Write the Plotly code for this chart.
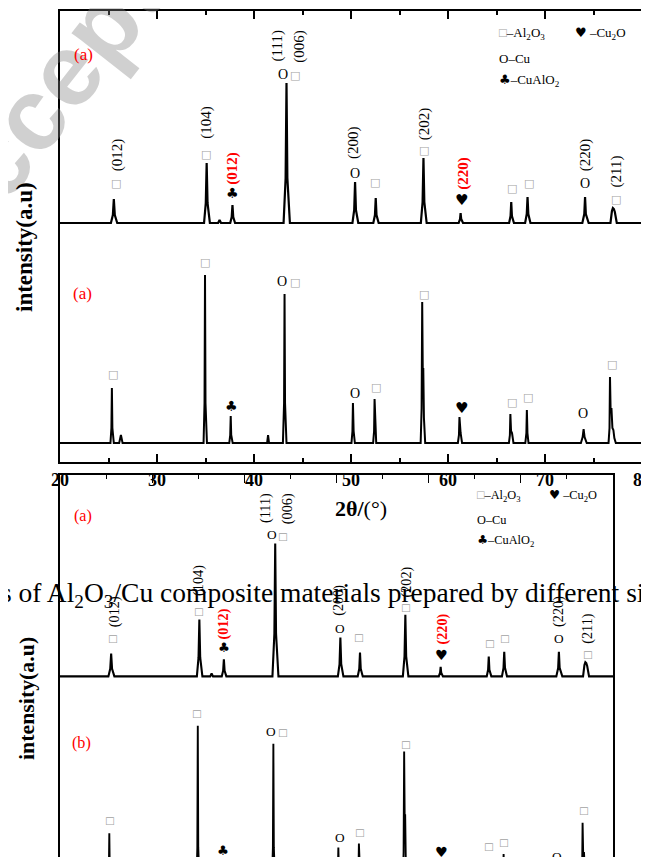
import plotly.graph_objects as go

# ---------------- data ----------------
# sample pattern shown on top (a): 2-theta (deg) and intensity (a.u., above its baseline)
A_two_theta = [20.0, 25.25, 25.45, 25.55, 25.65, 25.9,
               34.85, 35.03, 35.12, 35.21, 35.45,
               36.3, 36.45, 36.6,
               37.55, 37.7, 37.78, 37.86, 38.05,
               43.05, 43.26, 43.35, 43.44, 43.7,
               50.15, 50.33, 50.42, 50.51, 50.75,
               52.3, 52.47, 52.55, 52.63, 52.85,
               57.2, 57.38, 57.47, 57.56, 57.8,
               61.1, 61.24, 61.3, 61.36, 61.55,
               66.3, 66.45, 66.52, 66.59, 66.8,
               67.95, 68.12, 68.2, 68.28, 68.5,
               73.85, 74.05, 74.13, 74.21, 74.5,
               76.75, 76.9, 77.0, 77.1, 77.2, 77.4,
               80.0]
A_intensity = [0, 0, 8, 24, 8, 0,
               0, 20, 60, 20, 0,
               0, 3, 0,
               0, 6, 18, 6, 0,
               0, 45, 140, 45, 0,
               0, 13, 41, 13, 0,
               0, 8, 25, 8, 0,
               0, 21, 65, 21, 0,
               0, 4, 10, 4, 0,
               0, 7, 21, 7, 0,
               0, 9, 26, 9, 0,
               0, 9, 26, 9, 0,
               0, 12, 15, 14, 11, 0,
               0]

# second pattern (lower trace)
B_two_theta = [20.0, 25.2, 25.3, 25.35, 25.4, 25.55, 26.1, 26.28, 26.45,
               34.8, 34.9, 34.95, 35.0, 35.15,
               37.45, 37.55, 37.6, 37.65, 37.8,
               41.35, 41.45, 41.55,
               42.98, 43.1, 43.15, 43.2, 43.35,
               50.05, 50.15, 50.2, 50.27, 50.4,
               52.28, 52.38, 52.43, 52.5, 52.6,
               57.18, 57.28, 57.34, 57.4, 57.45, 57.52, 57.65,
               61.02, 61.13, 61.18, 61.24, 61.3, 61.45,
               66.28, 66.38, 66.43, 66.5, 66.6, 66.75,
               67.97, 68.08, 68.13, 68.19, 68.3,
               73.7, 73.88, 73.98, 74.08, 74.3,
               76.55, 76.65, 76.7, 76.77, 76.85, 76.95, 77.05, 77.15, 77.3,
               80.0]
B_intensity = [0, 0, 15, 55, 15, 0, 0, 8, 0,
               0, 40, 168, 40, 0,
               0, 8, 27, 8, 0,
               0, 8, 0,
               0, 40, 149, 40, 0,
               0, 12, 40, 12, 0,
               0, 12, 44, 12, 0,
               0, 35, 141, 70, 75, 25, 0,
               0, 8, 26, 12, 10, 0,
               0, 8, 29, 12, 10, 0,
               0, 10, 33, 10, 0,
               0, 6, 14, 6, 0,
               0, 15, 66, 30, 35, 15, 13, 5, 0,
               0]

X_TICKS = [20, 30, 40, 50, 60, 70, 80]

# ---------------- layout constants ----------------
W, H = 649, 857
PAGE_OFF = 8     # the page body places the figure 8 px in from the top-left corner
OFFSET_A = 239   # vertical stacking offset of the upper pattern
OFFSET_B = 19    # vertical stacking offset of the lower pattern
Y_TOP = 451
SCALE2 = 0.95    # second (lower) copy of the figure is drawn 95% size

SERIF = "Liberation Serif"
SYM = "DejaVu Sans"
GREY_BOX = "#a3a3a3"

def px(x):
    """page pixel x -> paper fraction"""
    return (x - PAGE_OFF) / W

def py(y):
    """page pixel y -> paper fraction"""
    return 1 - (y - PAGE_OFF) / H

# peak marker / hkl labels (data coordinates)
UPPER_LABELS = [
    (25.90, 307, "(012)", "hkl"), (25.77, 279, "□", "al"),
    (35.02, 340, "(104)", "hkl"), (35.10, 308, "□", "al"),
    (37.71, 294, "(012)", "hklred"), (37.79, 269, "♣", "club"),
    (42.32, 416, "(111)", "hkl"), (44.62, 416, "(006)", "hkl"),
    (42.96, 388, "O", "cu"), (44.20, 387, "□", "al"),
    (50.21, 319, "(200)", "hkl"), (50.38, 289, "O", "cu"),
    (52.43, 280, "□", "al"),
    (57.56, 338, "(202)", "hkl"), (57.56, 312, "□", "al"),
    (61.52, 289, "(220)", "hklred"), (61.39, 262, "♥", "heart"),
    (66.60, 274, "□", "al"), (68.31, 279, "□", "al"),
    (74.15, 307, "(220)", "hkl"), (74.10, 279, "O", "cu"),
    (77.27, 290, "(211)", "hkl"), (77.27, 263, "□", "al"),
]
LOWER_LABELS = [
    (25.42, 88, "□", "al"), (34.90, 200, "□", "al"), (37.73, 56, "♣", "club"),
    (42.89, 181, "O", "cu"), (44.20, 180, "□", "al"), (50.38, 69, "O", "cu"),
    (52.56, 75, "□", "al"), (57.56, 168, "□", "al"), (61.39, 54, "♥", "heart"),
    (66.55, 60, "□", "al"), (68.22, 65, "□", "al"), (73.90, 49, "O", "cu"),
    (76.89, 98, "□", "al"),
]
LEGEND = [
    (65.05, 429, '<span style="color:%s">□</span>–Al<sub>2</sub>O<sub>3</sub>' % GREY_BOX),
    (72.89, 429, '<span style="font-family:DejaVu Sans">♥</span> –Cu<sub>2</sub>O'),
    (65.05, 404, 'O–Cu'),
    (65.05, 382, '<span style="font-family:DejaVu Sans">♣</span>–CuAlO<sub>2</sub>'),
]

STYLES = {
    "hkl": dict(family=SERIF, size=15, color="black", angle=-90, weight="normal"),
    "hklred": dict(family=SERIF, size=15, color="red", angle=-90, weight="bold"),
    "al": dict(family=SYM, size=11, color=GREY_BOX, angle=0, weight="normal"),
    "cu": dict(family=SERIF, size=14, color="black", angle=0, weight="normal"),
    "club": dict(family=SYM, size=14, color="black", angle=0, weight="normal"),
    "heart": dict(family=SYM, size=15, color="black", angle=0, weight="normal"),
}

fig = go.Figure()

panels = [("x", "y", 1.0, "(a)"), ("x2", "y2", SCALE2, "(b)")]
for xa, ya, s, lower_tag in panels:
    fig.add_trace(go.Scatter(x=A_two_theta, y=[v + OFFSET_A for v in A_intensity],
                             xaxis=xa, yaxis=ya, mode="lines",
                             line=dict(color="black", width=2.2 * s),
                             hoverinfo="skip", showlegend=False))
    fig.add_trace(go.Scatter(x=B_two_theta, y=[v + OFFSET_B for v in B_intensity],
                             xaxis=xa, yaxis=ya, mode="lines",
                             line=dict(color="black", width=2.0 * s),
                             hoverinfo="skip", showlegend=False))

annotations = []

# watermark (translucent)
annotations.append(dict(xref="paper", yref="paper", x=px(73), y=py(62),
                        text="<b>Accepted</b>", showarrow=False, textangle=-52,
                        xanchor="center", yanchor="middle",
                        font=dict(family="Liberation Sans", size=102,
                                  color="rgba(128,128,128,0.37)")))

for xa, ya, s, lower_tag in panels:
    for (x, y, t, st) in UPPER_LABELS + LOWER_LABELS:
        d = STYLES[st]
        annotations.append(dict(xref=xa, yref=ya, x=x, y=y, text=t, showarrow=False,
                                textangle=d["angle"], xanchor="center", yanchor="middle",
                                font=dict(family=d["family"], size=d["size"] * s,
                                          color=d["color"], weight=d["weight"])))
    annotations.append(dict(xref=xa, yref=ya, x=22.47, y=408, text="(a)", showarrow=False,
                            xanchor="center", yanchor="middle",
                            font=dict(family=SERIF, size=17 * s, color="red")))
    annotations.append(dict(xref=xa, yref=ya, x=22.35, y=169, text=lower_tag, showarrow=False,
                            xanchor="center", yanchor="middle",
                            font=dict(family=SERIF, size=17 * s, color="red")))
    for (x, y, t) in LEGEND:
        annotations.append(dict(xref=xa, yref=ya, x=x, y=y, text=t, showarrow=False,
                                xanchor="left", yanchor="middle",
                                font=dict(family=SERIF, size=13 * s, color="black")))

# axis titles
annotations.append(dict(xref="paper", yref="paper", x=px(361), y=py(508),
                        text="<b>2θ/</b>(°)", showarrow=False, xanchor="center", yanchor="middle",
                        font=dict(family=SERIF, size=22, color="black")))
annotations.append(dict(xref="paper", yref="paper", x=px(25), y=py(247),
                        text="<b>intensity(a.u)</b>", showarrow=False, textangle=-90,
                        xanchor="center", yanchor="middle",
                        font=dict(family=SERIF, size=23, color="black")))
annotations.append(dict(xref="paper", yref="paper", x=px(27), y=py(699),
                        text="<b>intensity(a.u)</b>", showarrow=False, textangle=-90,
                        xanchor="center", yanchor="middle",
                        font=dict(family=SERIF, size=23 * SCALE2, color="black")))

# caption line of the page running through the lower copy
annotations.append(dict(xref="paper", yref="paper", x=px(-1), y=py(594),
                        text="s of Al<sub>2</sub>O<sub>3</sub>/Cu composite materials prepared by different si",
                        showarrow=False, xanchor="left", yanchor="middle",
                        font=dict(family=SERIF, size=27.5, color="black")))

axis_common = dict(showgrid=False, zeroline=False, linecolor="black", showline=True,
                   automargin=False)

FIG_BOTTOM = H + PAGE_OFF  # page y of the figure's bottom edge

fig.update_layout(
    template="none",
    width=W, height=H,
    margin=dict(l=0, r=0, t=0, b=0, pad=0, autoexpand=False),
    paper_bgcolor="white", plot_bgcolor="rgba(0,0,0,0)",
    showlegend=False,
    annotations=annotations,
    xaxis=dict(domain=[px(60), px(642)], range=[20, 80], anchor="y",
               linewidth=2, mirror="ticks", ticks="inside", ticklen=8, tickwidth=1.5,
               tickcolor="black", tickmode="array", tickvals=X_TICKS,
               ticktext=[str(v) for v in X_TICKS],
               minor=dict(ticks="inside", ticklen=4, dtick=5, tick0=20, tickwidth=1.5,
                          tickcolor="black", showgrid=False),
               tickfont=dict(family=SERIF, size=18, color="black", weight="bold"),
               **axis_common),
    yaxis=dict(domain=[py(462), py(11)], range=[0, Y_TOP], anchor="x",
               linewidth=2, mirror=True, ticks="", showticklabels=False, **axis_common),
    xaxis2=dict(domain=[px(60), px(613)], range=[20, 80], anchor="y2", side="top",
                linewidth=2, mirror=False, ticks="inside", ticklen=7.6, tickwidth=1.4,
                tickcolor="black", tickmode="array", tickvals=X_TICKS, showticklabels=False,
                minor=dict(ticks="inside", ticklen=3.8, dtick=5, tick0=20, tickwidth=1.4,
                           tickcolor="black", showgrid=False),
                **axis_common),
    yaxis2=dict(domain=[0, py(475)],
                range=[Y_TOP - (FIG_BOTTOM - 475) / SCALE2, Y_TOP], anchor="x2",
                linewidth=2, mirror=True, ticks="", showticklabels=False, **axis_common),
)

fig.write_html("out.html")
